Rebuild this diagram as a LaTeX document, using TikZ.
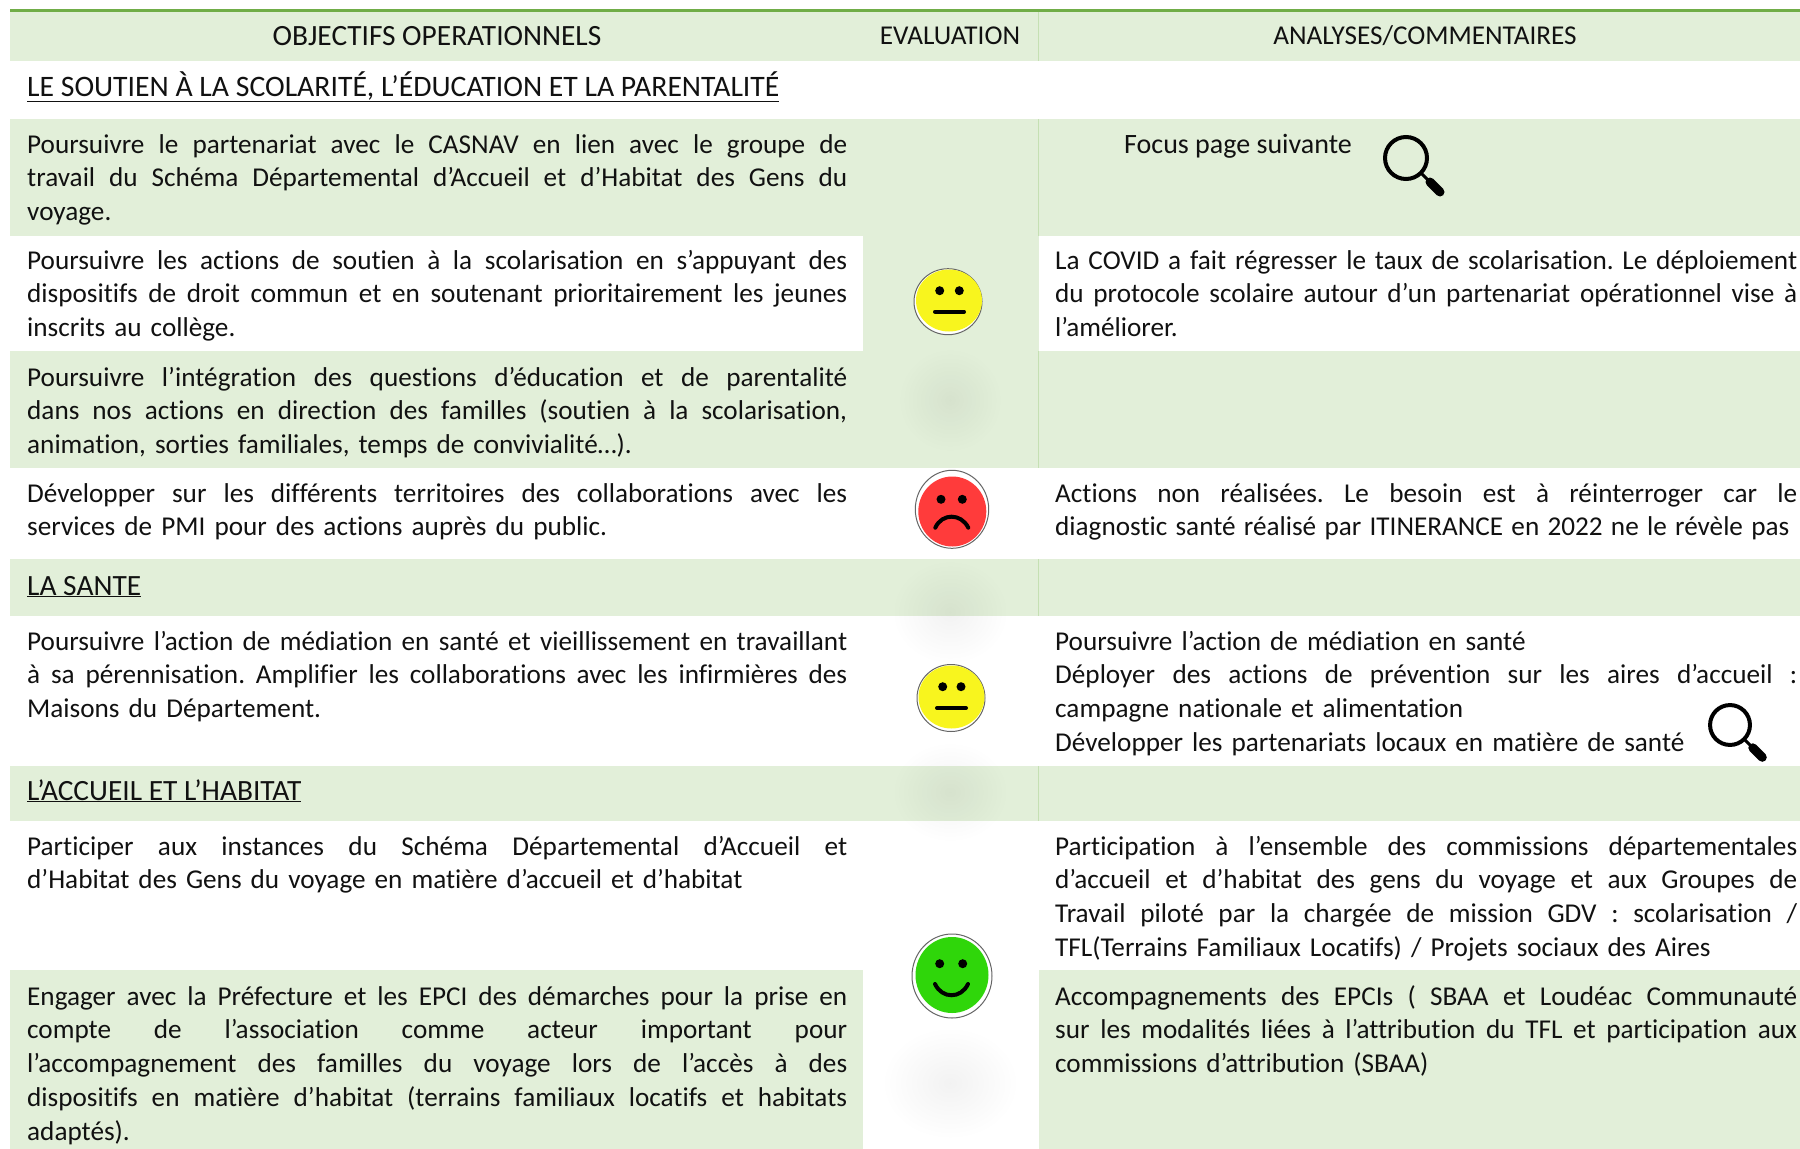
\documentclass[tikz,border=0pt]{standalone}
\usepackage{fontspec}
\setmainfont[Ligatures={TeX,NoCommon}]{Carlito}
\usetikzlibrary{fadings}
\definecolor{rowgreen}{HTML}{E2EFD9}
\definecolor{topgreen}{HTML}{70AD47}
\definecolor{sepgreen}{HTML}{C5E0B3}
\definecolor{faceyellow}{HTML}{F8F51E}
\definecolor{facered}{HTML}{FF3B3B}
\definecolor{facegreen}{HTML}{2FD60A}
\definecolor{inkc}{HTML}{111111}
\newlength{\lnwd}
\newcommand{\jl}[1]{\makebox[\lnwd][s]{\spaceskip=0pt\xspaceskip=0pt #1}}
\tikzfading[name=softblob, inner color=transparent!95, outer color=transparent!100]
\tikzset{
  x=1pt,y=-1pt,
  band/.style={fill=rowgreen,draw=none},
  txt/.style={font=\fontsize{27.2}{33.8}\selectfont\frenchspacing,text=inkc,inner sep=0pt,anchor=base west,align=left},
  leftcol/.style={txt,text width=820pt,execute at begin node={\setlength{\lnwd}{820pt}}},
  rightcol/.style={txt,text width=742pt,execute at begin node={\setlength{\lnwd}{742pt}}},
  head/.style={font=\fontsize{27.2}{30}\selectfont,text=inkc,inner sep=0pt,anchor=base},
  title/.style={font=\fontsize{29.4}{30}\selectfont,text=inkc,inner sep=0pt,anchor=base west},
  ring/.style={draw=black!60,line width=1pt,fill=white},
  facefeat/.style={draw=black,line width=4pt,line cap=round},
  lensline/.style={draw=black,line width=4pt},
  blob/.style={fill=black,path fading=softblob}
}
\newcommand{\magnif}[3]{%
  \begin{scope}[shift={(#1,#2)},scale=#3]
    \draw[lensline] (0,0) circle (21);
    \draw[line width=3pt] (15,15) -- (23,23);
    \draw[line width=9pt,line cap=round] (24,24) -- (34,34);
  \end{scope}}
\begin{document}
\begin{tikzpicture}
\useasboundingbox (0,0) rectangle (1800,1149);
\fill[white] (0,0) rectangle (1800,1149);
% bands
\fill[band] (10,10) rectangle (1800,61);
\fill[band] (10,119) rectangle (1800,236);
\fill[band] (863,236) rectangle (1038.5,351);
\fill[band] (10,351) rectangle (1800,468);
\fill[band] (10,559) rectangle (1800,616);
\fill[band] (10,766) rectangle (1800,821);
\fill[band] (10,970) rectangle (863,1149);
\fill[band] (1038.5,970) rectangle (1800,1149);
% separators
\foreach \ya/\yb in {10/61,119/236,351/468,559/616,766/821}
  \draw[sepgreen,line width=0.8pt] (1038.5,\ya) -- (1038.5,\yb);
\fill[topgreen] (10,8.5) rectangle (1800,11.5);
% soft shadows
\fill[blob] (950,400) ellipse (52 and 52);
\fill[blob] (950,612) ellipse (58 and 52);
\fill[blob] (950,792) ellipse (58 and 50);
\fill[blob] (950,1083) ellipse (68 and 56);
% header
\node[head,font=\fontsize{29.4}{30}\selectfont] (h1) at (437,45) {OBJECTIFS OPERATIONNELS};
\node[head] (h2) at (950,44) {EVALUATION};
\node[head] (h3) at (1425,44) {ANALYSES/COMMENTAIRES};
% sections
\node[title,font=\fontsize{29.7}{30}\selectfont] (s1) at (27,96) {\underline{LE SOUTIEN À LA SCOLARITÉ, L’ÉDUCATION ET LA PARENTALITÉ}};
\node[title] (s2) at (27,595) {\underline{LA SANTE}};
\node[title] (s3) at (27,800) {\underline{L’ACCUEIL ET L’HABITAT}};
% left column
\node[leftcol] (l1) at (27,153) {\jl{Poursuivre le partenariat avec le CASNAV en lien avec le groupe de}\\
\jl{travail du Schéma Départemental d’Accueil et d’Habitat des Gens du}\\
voyage.};
\node[leftcol] (l2) at (27,269) {\jl{Poursuivre les actions de soutien à la scolarisation en s’appuyant des}\\
\jl{dispositifs de droit commun et en soutenant prioritairement les jeunes}\\
inscrits au collège.};
\node[leftcol] (l3) at (27,386) {\jl{Poursuivre l’intégration des questions d’éducation et de parentalité}\\
\jl{dans nos actions en direction des familles (soutien à la scolarisation,}\\
animation, sorties familiales, temps de convivialité…).};
\node[leftcol] (l4) at (27,502) {\jl{Développer sur les différents territoires des collaborations avec les}\\
services de PMI pour des actions auprès du public.};
\node[leftcol] (l5) at (27,650) {\jl{Poursuivre l’action de médiation en santé et vieillissement en travaillant}\\
\jl{à sa pérennisation. Amplifier les collaborations avec les infirmières des}\\
Maisons du Département.};
\node[leftcol] (l6) at (27,855) {\jl{Participer aux instances du Schéma Départemental d’Accueil et}\\
d’Habitat des Gens du voyage en matière d’accueil et d’habitat};
\node[leftcol] (l7) at (27,1005) {\jl{Engager avec la Préfecture et les EPCI des démarches pour la prise en}\\
\jl{compte de l’association comme acteur important pour}\\
\jl{l’accompagnement des familles du voyage lors de l’accès à des}\\
\jl{dispositifs en matière d’habitat (terrains familiaux locatifs et habitats}\\
adaptés).};
% right column
\node[title,font=\fontsize{28}{30}\selectfont] (r1) at (1124,153) {Focus page suivante};
\node[rightcol] (r2) at (1055,269) {\jl{La COVID a fait régresser le taux de scolarisation. Le déploiement}\\
\jl{du protocole scolaire autour d’un partenariat opérationnel vise à}\\
l’améliorer.};
\node[rightcol] (r3) at (1055,502) {\jl{Actions non réalisées. Le besoin est à réinterroger car le}\\
\makebox[734pt][s]{\spaceskip=0pt\xspaceskip=0pt diagnostic santé réalisé par ITINERANCE en 2022 ne le révèle pas}};
\node[rightcol] (r4) at (1055,650) {Poursuivre l’action de médiation en santé\\
\jl{Déployer des actions de prévention sur les aires d’accueil :}\\
campagne nationale et alimentation\\
Développer les partenariats locaux en matière de santé};
\node[rightcol] (r5) at (1055,855) {\jl{Participation à l’ensemble des commissions départementales}\\
\jl{d’accueil et d’habitat des gens du voyage et aux Groupes de}\\
\jl{Travail piloté par la chargée de mission GDV : scolarisation /}\\
TFL(Terrains Familiaux Locatifs) / Projets sociaux des Aires};
\node[rightcol] (r6) at (1055,1005) {\jl{Accompagnements des EPCIs ( SBAA et Loudéac Communauté}\\
\jl{sur les modalités liées à l’attribution du TFL et participation aux}\\
commissions d’attribution (SBAA)};
% magnifiers
\magnif{1406}{158}{1}
\magnif{1730}{725}{0.95}
% yellow face 1
\filldraw[ring] (948,301.7) ellipse (34 and 33);
\fill[faceyellow] (949,300.5) ellipse (33 and 31);
\fill[black] (939.7,290.7) circle (4.5) (959.3,290.7) circle (4.5);
\draw[facefeat] (935,311.7) -- (964,311.7);
% red face
\filldraw[ring] (952,509.3) ellipse (36.7 and 39);
\fill[facered] (952.3,511.5) ellipse (34 and 35);
\fill[black] (941,499.3) circle (4.5) (962.3,499.3) circle (4.5);
\draw[facefeat] (935.3,527.7) .. controls (942,513) and (961,513) .. (968.3,527.7);
% yellow face 2
\filldraw[ring] (951,698) ellipse (34 and 33.5);
\fill[faceyellow] (951.5,697) ellipse (33 and 31.5);
\fill[black] (942.7,686.7) circle (4.5) (961,686.7) circle (4.5);
\draw[facefeat] (937,708) -- (966,708);
% green face
\filldraw[ring] (952,976) ellipse (40 and 42);
\fill[facegreen] (952,975) ellipse (36.5 and 38);
\fill[black] (939.7,963.7) circle (4.5) (962.7,963.7) circle (4.5);
\draw[facefeat] (935,984) .. controls (942,999) and (961,999) .. (968,984);
\end{tikzpicture}
\end{document}
